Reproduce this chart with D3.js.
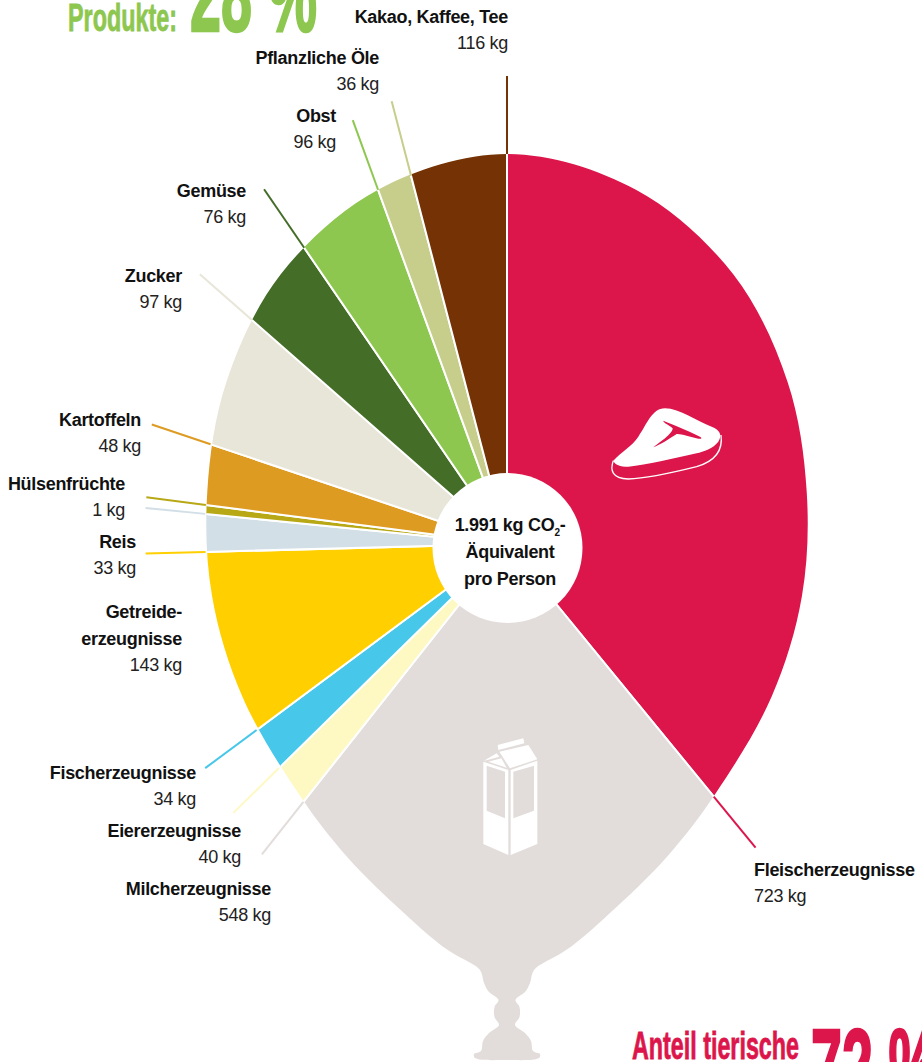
<!DOCTYPE html>
<html>
<head>
<meta charset="utf-8">
<script src="https://cdn.jsdelivr.net/npm/d3@7"></script>
<style>
  html, body { margin: 0; padding: 0; background: #fff; overflow: hidden; }
  svg { display: block; }
  text { font-family: "Liberation Sans", Arial, sans-serif; fill: #111; }
  .name { font-weight: bold; font-size: 18px; letter-spacing: -0.3px; }
  .kg { font-size: 18px; letter-spacing: -0.3px; fill: #222; }
  .head { font-family: "Liberation Sans Narrow", "Liberation Sans", sans-serif; font-weight: bold; }
</style>
</head>
<body>
<svg id="chart" width="922" height="1062"></svg>
<script>
// Categories clockwise from 12 o'clock
var categories = ["Fleischerzeugnisse", "Milcherzeugnisse", "Eiererzeugnisse", "Fischerzeugnisse", "Getreideerzeugnisse", "Reis", "Hülsenfrüchte", "Kartoffeln", "Zucker", "Gemüse", "Obst", "Pflanzliche Öle", "Kakao, Kaffee, Tee"];
var kgValues = [723, 548, 40, 34, 143, 33, 1, 48, 97, 76, 96, 36, 116];
// The slices in the original are not proportional to kg, so sweep is read off the picture
var sweepDegrees = [140.7, 77.6, 7.2, 7.9, 35.1, 7.2, 1.7, 11.2, 22.7, 14.3, 14.4, 5.4, 14.6];
var sliceColors = ["#dc164b", "#e2dddb", "#fef9c3", "#47c7ea", "#ffcf00", "#d2dfe7", "#b9a816", "#dd9b22", "#e8e6d8", "#446d27", "#8dc74f", "#c7cd8b", "#743205"];

// Label layout, same order as categories
var labelLines = [["Fleischerzeugnisse"], ["Milcherzeugnisse"], ["Eiererzeugnisse"], ["Fischerzeugnisse"], ["Getreide-", "erzeugnisse"], ["Reis"], ["Hülsenfrüchte"], ["Kartoffeln"], ["Zucker"], ["Gemüse"], ["Obst"], ["Pflanzliche Öle"], ["Kakao, Kaffee, Tee"]];
var labelX = [754, 271, 241, 196, 182, 136, 125, 141, 182, 246, 336, 379, 508];
var labelY = [876, 895, 837, 779, 618, 548, 490, 426, 282, 197, 122, 64, 23];
var leaderLength = [66, 67, 64, 64, 60, 60, 60, 62, 69, 71, 74, 77, 78];

// Balloon outline: radius by angle from the top, left side is the mirror
var outlineDegrees = [0, 20, 40, 60, 80, 100, 120, 140, 153, 164.4, 171.6, 176.1];
var outlineRadius = [390, 377, 352, 324, 304.3, 299.5, 305.5, 325, 351.5, 383, 410, 425];
// Knot below the balloon, offset from the centre
var neckDx = [25.5, 23, 18, 8.5, 12.5, 12.5, 8, 18, 24, 26, 33, 32];
var neckDy = [429, 439, 448, 456, 463, 473, 481, 489, 497, 507, 510, 514];

var cx = 507, cy = 544;
var svg = d3.select("#chart");

var radiusAt = d3.scaleLinear().domain(outlineDegrees).range(outlineRadius);

function polar(deg, r) {
    var a = deg * Math.PI / 180;
    return [r * Math.sin(a), -r * Math.cos(a)];
}

// Build the closed outline, right side then mirrored left side
var rightSide = outlineDegrees.map(function(d, i) { return polar(d, outlineRadius[i]); })
    .concat(neckDx.map(function(d, i) { return [d, neckDy[i]]; }));
var leftSide = rightSide.slice(1).reverse().map(function(p) { return [-p[0], p[1]]; });
var outline = rightSide.concat([[0, 516]], leftSide);

var outlinePath = d3.line().curve(d3.curveCatmullRomClosed.alpha(0.5))(outline);

svg.append("clipPath").attr("id", "balloon")
    .append("path")
    .attr("transform", "translate(" + cx + "," + cy + ")")
    .attr("d", outlinePath);

var pie = d3.pie().sort(null).value(function(d, i) { return sweepDegrees[i]; });
var arcs = pie(kgValues);
var arc = d3.arc().innerRadius(0).outerRadius(720);

// Slices, cut to the balloon shape
var slices = svg.append("g").attr("clip-path", "url(#balloon)")
    .append("g").attr("transform", "translate(" + cx + "," + cy + ")");

slices.selectAll("path")
    .data(arcs)
    .enter().append("path")
    .attr("d", arc)
    .attr("fill", function(d, i) { return sliceColors[i]; })
    .attr("stroke", "#fff")
    .attr("stroke-width", 2);

// Leader lines run on from the clockwise edge of each slice
svg.append("g").attr("transform", "translate(" + cx + "," + cy + ")")
    .selectAll("line")
    .data(arcs)
    .enter().append("line")
    .each(function(d, i) {
        var deg = d.endAngle * 180 / Math.PI;
        var folded = deg > 180 ? 360 - deg : deg;
        var r = radiusAt(folded);
        var p0 = polar(deg, r), p1 = polar(deg, r + leaderLength[i]);
        d3.select(this)
            .attr("x1", p0[0]).attr("y1", p0[1])
            .attr("x2", p1[0]).attr("y2", p1[1])
            .attr("stroke", sliceColors[i])
            .attr("stroke-width", 2);
    });

// Hole in the middle
svg.append("circle").attr("cx", 507.5).attr("cy", 548).attr("r", 75).attr("fill", "#fff");

var centerText = svg.append("g").attr("text-anchor", "middle");
var co2 = centerText.append("text").attr("x", 510).attr("y", 531).attr("class", "name");
co2.append("tspan").text("1.991 kg CO");
co2.append("tspan").attr("dy", 5).style("font-size", "10px").text("2");
co2.append("tspan").attr("dy", -5).text("-");
centerText.append("text").attr("x", 510).attr("y", 558).attr("class", "name").text("Äquivalent");
centerText.append("text").attr("x", 510).attr("y", 585).attr("class", "name").text("pro Person");

// Labels
categories.forEach(function(c, i) {
    var g = svg.append("g").attr("text-anchor", i === 0 ? "start" : "end");
    labelLines[i].forEach(function(line, j) {
        g.append("text").attr("class", "name")
            .attr("x", labelX[i]).attr("y", labelY[i] + j * 27).text(line);
    });
    g.append("text").attr("class", "kg")
        .attr("x", labelX[i]).attr("y", labelY[i] + (labelLines[i].length - 1) * 27 + 26)
        .text(kgValues[i] + " kg");
});

// Headlines, both cut by the page edge
function headline(text, x, y, size, length, color, weight) {
    svg.append("text").attr("class", "head").attr("x", x).attr("y", y)
        .style("font-size", size + "px").style("fill", color)
        .style("stroke", color).style("stroke-width", weight)
        .attr("textLength", length).attr("lengthAdjust", "spacingAndGlyphs").text(text);
}
headline("Produkte:", 68, 31, 38, 109, "#8dc74f", 0.8);
headline("28 %", 190, 31, 105, 127, "#8dc74f", 2.5);
headline("Anteil tierische", 632, 1059, 38, 167, "#dc164b", 0.8);
headline("72 %", 811, 1103, 105, 127, "#dc164b", 2.5);

// Steak icon
var steak = svg.append("g").attr("transform", "translate(500,140) scale(0.3333)");
steak.append("path").attr("fill", "#fff")
    .attr("d", "M340,962 C365,935 395,920 415,890 C440,855 455,805 495,805 C540,805 590,845 635,860 C660,870 668,885 655,905 C640,925 610,935 590,940 C520,955 440,975 385,980 C360,980 345,975 340,962 Z");
steak.append("path").attr("fill", "#dc164b")
    .attr("d", "M490,842 C510,850 560,870 600,890 C607,893 605,898 595,896 C570,890 540,880 530,882 C510,895 480,915 460,922 C475,910 520,880 518,865 C510,855 490,850 490,842 Z");
steak.append("path").attr("fill", "none").attr("stroke", "#fff").attr("stroke-width", 4)
    .attr("d", "M340,962 C330,990 335,1015 385,1017 C450,1015 530,995 590,980 C640,965 670,935 663,885");

// Milk carton icon
var carton = svg.append("g").attr("transform", "translate(460,720) scale(0.3333)").attr("fill", "#fff");
carton.append("path").attr("fill-rule", "evenodd")
    .attr("d", "M70,125 L145,150 L145,405 L70,372 Z M80,137 L80,272 L135,295 L135,155 Z");
carton.append("path").attr("fill-rule", "evenodd")
    .attr("d", "M152,150 L232,122 L232,372 L152,405 Z M160,155 L160,295 L222,272 L222,137 Z");
carton.append("path").attr("d", "M118,95 L205,75 L232,118 L150,145 Z");
carton.append("path").attr("d", "M113,75 L190,55 L193,70 L115,90 Z");
carton.append("path").attr("d", "M72,122 L110,100 L118,110 L82,120 Z");
carton.append("path").attr("d", "M85,125 L124,115 L140,143 Z");
</script>
</body>
</html>
